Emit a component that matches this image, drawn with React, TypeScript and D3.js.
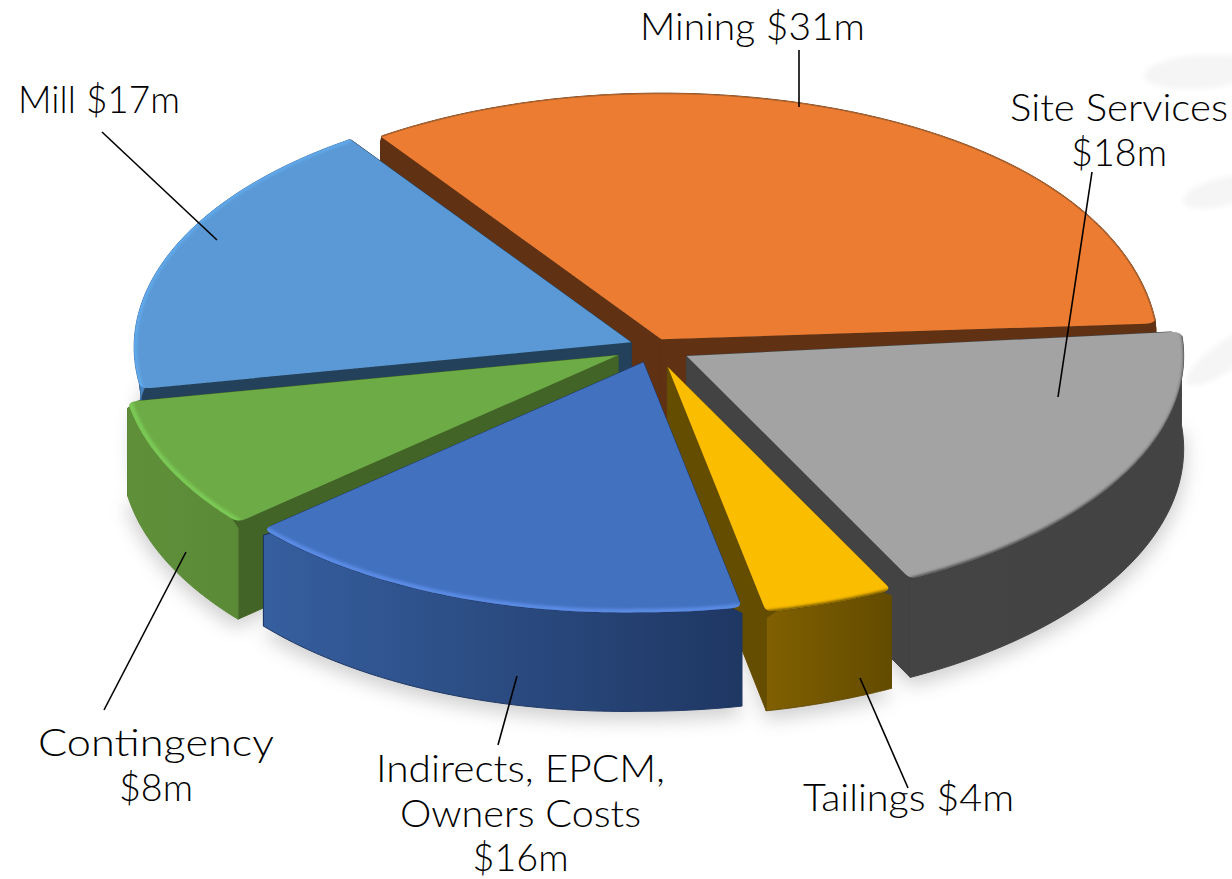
import React, { useEffect, useRef } from "react";
import * as d3 from "d3";

// values in $m
const categories = ["Mining", "Site Services", "Tailings", "Indirects, EPCM, Owners Costs", "Contingency", "Mill"];
const costs = [31, 18, 4, 16, 8, 17];
const explode = [0.035, 0.075, 0.085, 0.065, 0.08, 0.05];

const topColors = ["#eb7c31", "#a3a3a3", "#fbbd00", "#4271c0", "#6dab46", "#5a99d5"];
const wallColors = ["#603113", "#434343", "#654d00", "#1f3763", "#426427", "#23415b"];
const outerFrom = ["#603113", "#444444", "#806000", "#365f9f", "#5f9039", "#4a86c5"];
const outerTo = ["#603113", "#434343", "#634b00", "#1f3763", "#5b8a37", "#3f76b0"];
const rimColors = ["#a8602c", "#3f3f3f", "#5f4800", "#5b8ce6", "#7ccb57", "#64aef2"];
const rimWidths = [1.5, 6, 6, 5, 5, 3];
const rimRadius = [0.999, 1.006, 1.006, 0.996, 0.996, 0.998];

// back to front
const drawOrder = [0, 5, 1, 4, 2, 3];

const labelLines = [
  ["Mining $31m"],
  ["Site Services", "$18m"],
  ["Tailings $4m"],
  ["Indirects, EPCM,", "Owners Costs", "$16m"],
  ["Contingency", "$8m"],
  ["Mill $17m"],
];
const labelWidths = [
  [225],
  [218, 96],
  [211],
  [289, 241, 96],
  [236, 74],
  [162],
];
const labelAnchors = [
  [752.5, 40],
  [1119, 121],
  [908.5, 811],
  [520.5, 782],
  [156, 756],
  [99, 113],
];
const leaders = [
  [799, 50, 799, 107],
  [1092, 172, 1058, 397],
  [860, 678, 908, 788],
  [517, 676, 498, 745],
  [186, 552, 104, 710],
  [102, 132, 217, 240],
];
const smudges = [
  [1200, 72, 56, 17, -4],
  [1222, 192, 40, 14, -14],
  [1226, 356, 48, 14, -35],
];

const width = 1232;
const height = 879;
const cx = 654;
const cy = 347;
const rx = 497;
const deg = Math.PI / 180;

export default function App() {
  const ref = useRef<SVGSVGElement | null>(null);

  useEffect(() => {
    const svg = d3.select(ref.current);
    svg.selectAll("*").remove();

    const arcs = d3
      .pie<number>()
      .sort(null)
      .startAngle(-34.4 * deg)
      .endAngle(325.6 * deg)(costs);

    const line = d3.line<number[]>().curve(d3.curveLinear);

    const depth = (a: number) => 93 - 6 * Math.cos(a);
    // back corners stay sharp, the rest are rounded off
    const cutAt = (a: number) => (Math.cos(a) > 0.8 ? 0.2 : 1.2) * deg;
    const insetAt = (a: number) => (Math.cos(a) > 0.8 ? 0.996 : 0.98);

    const origin = (i: number) => {
      const mid = (arcs[i].startAngle + arcs[i].endAngle) / 2;
      return [cx + rx * explode[i] * Math.sin(mid), cy - 248 * explode[i] * Math.cos(mid)];
    };
    // the pie in the picture sits slightly tilted: front left hangs lower,
    // and the far right of the mining slice sags a little
    const point = (i: number, a: number, r = 1, down = 0) => {
      const [ox, oy] = origin(i);
      const dx = rx * r * Math.sin(a);
      const ry = 248 - 2 * Math.cos(a);
      const tilt = dx < 0 ? -0.02 * dx * ((1 - Math.cos(a)) / 2) : 0;
      const sag = i === 0 && dx > 0 ? 9 * Math.pow(Math.sin(a), 8) : 0;
      return [ox + dx, oy - ry * r * Math.cos(a) + tilt + sag + down];
    };
    const arcPoints = (i: number, r = 1, down = 0, trim = false) => {
      const a0 = arcs[i].startAngle + (trim ? cutAt(arcs[i].startAngle) : 0);
      const a1 = arcs[i].endAngle - (trim ? cutAt(arcs[i].endAngle) : 0);
      return d3
        .range(0, 61)
        .map((k) => a0 + ((a1 - a0) * k) / 60)
        .map((a) => point(i, a, r, down * depth(a)));
    };
    // wedge with softened outer corners
    const facePath = (i: number) => {
      const o = origin(i);
      const pts = arcPoints(i, 1, 0, true);
      const { startAngle, endAngle } = arcs[i];
      const s = point(i, startAngle);
      const e = point(i, endAngle);
      const sIn = point(i, startAngle, insetAt(startAngle));
      const eIn = point(i, endAngle, insetAt(endAngle));
      const p = d3.path();
      p.moveTo(o[0], o[1]);
      p.lineTo(sIn[0], sIn[1]);
      p.quadraticCurveTo(s[0], s[1], pts[0][0], pts[0][1]);
      pts.slice(1).forEach((q) => p.lineTo(q[0], q[1]));
      p.quadraticCurveTo(e[0], e[1], eIn[0], eIn[1]);
      p.closePath();
      return p.toString();
    };

    const defs = svg.append("defs");
    const blur = (id: string, s: number) =>
      defs
        .append("filter")
        .attr("id", id)
        .attr("x", "-20%")
        .attr("y", "-20%")
        .attr("width", "140%")
        .attr("height", "140%")
        .append("feGaussianBlur")
        .attr("stdDeviation", s);
    blur("soft", 1.6);
    blur("thin", 0.7);
    blur("ground", 9);
    blur("smudge", 2.5);

    categories.forEach((_, i) => {
      const g = defs.append("linearGradient").attr("id", `outer${i}`);
      g.append("stop").attr("offset", "0%").attr("stop-color", outerFrom[i]);
      g.append("stop").attr("offset", "100%").attr("stop-color", outerTo[i]);
      defs.append("clipPath").attr("id", `top${i}`).append("path").attr("d", facePath(i));
    });

    // faint marks in the background
    svg
      .append("g")
      .selectAll("ellipse")
      .data(smudges)
      .join("ellipse")
      .attr("transform", (d) => `translate(${d[0]},${d[1]}) rotate(${d[4]})`)
      .attr("rx", (d) => d[2])
      .attr("ry", (d) => d[3])
      .attr("fill", "#f5f5f5")
      .attr("filter", "url(#smudge)");

    // ground shadow
    const shadow = svg.append("g").attr("filter", "url(#ground)").attr("opacity", 0.45);
    categories.forEach((_, i) => {
      const [ox, oy] = origin(i);
      shadow
        .append("path")
        .attr("d", line([[ox, oy + 100], ...arcPoints(i, 1.005, 1).map((p) => [p[0], p[1] + 8])]) + "Z")
        .attr("fill", "#9a9a9a");
    });

    drawOrder.forEach((i) => {
      const g = svg.append("g");
      const o = origin(i);
      const { startAngle, endAngle } = arcs[i];
      // just under the true corner, where the vertical wall edge starts
      const shoulder = (a: number) => point(i, a, 1, 6);

      // cut faces
      [startAngle, endAngle].forEach((a) => {
        const e = point(i, a, insetAt(a));
        const t = point(i, a === startAngle ? a + cutAt(a) : a - cutAt(a));
        const b = point(i, a, 1, depth(a));
        const wall = [o, e, t, shoulder(a), b, [o[0], o[1] + 96]];
        g.append("path")
          .attr("d", line(wall) + "Z")
          .attr("fill", wallColors[i])
          .attr("stroke", wallColors[i])
          .attr("stroke-width", 1)
          .attr("stroke-linejoin", "round");
      });

      // outer wall
      const top = arcPoints(i, 1, 0, true);
      const bottom = arcPoints(i, 1, 1).reverse();
      g.append("path")
        .attr("d", line([shoulder(startAngle), ...top, shoulder(endAngle), ...bottom]) + "Z")
        .attr("fill", `url(#outer${i})`)
        .attr("stroke", outerTo[i])
        .attr("stroke-width", 1)
        .attr("stroke-linejoin", "round");

      // top face
      g.append("path").attr("d", facePath(i)).attr("fill", topColors[i]);

      // bevel along the rim
      g.append("g")
        .attr("clip-path", `url(#top${i})`)
        .append("path")
        .attr("d", line(arcPoints(i, rimRadius[i])))
        .attr("fill", "none")
        .attr("stroke", rimColors[i])
        .attr("stroke-width", rimWidths[i])
        .attr("filter", i === 0 ? "url(#thin)" : "url(#soft)");
    });

    // leader lines
    svg
      .append("g")
      .selectAll("line")
      .data(leaders)
      .join("line")
      .attr("x1", (d) => d[0])
      .attr("y1", (d) => d[1])
      .attr("x2", (d) => d[2])
      .attr("y2", (d) => d[3])
      .attr("stroke", "#000")
      .attr("stroke-width", 1.6);

    // labels
    labelLines.forEach((lines, i) => {
      const t = svg
        .append("text")
        .attr("text-anchor", "middle")
        .attr("font-family", "Lato, sans-serif")
        .attr("font-weight", 300)
        .attr("font-size", 38)
        .attr("fill", "#000");
      lines.forEach((s, k) => {
        t.append("tspan")
          .attr("x", labelAnchors[i][0])
          .attr("y", labelAnchors[i][1] + k * 44.5)
          .attr("textLength", labelWidths[i][k])
          .attr("lengthAdjust", "spacingAndGlyphs")
          .text(s);
      });
    });
  }, []);

  return <svg ref={ref} width={width} height={height} style={{ position: "absolute", left: 0, top: 0, background: "#fff" }} />;
}
